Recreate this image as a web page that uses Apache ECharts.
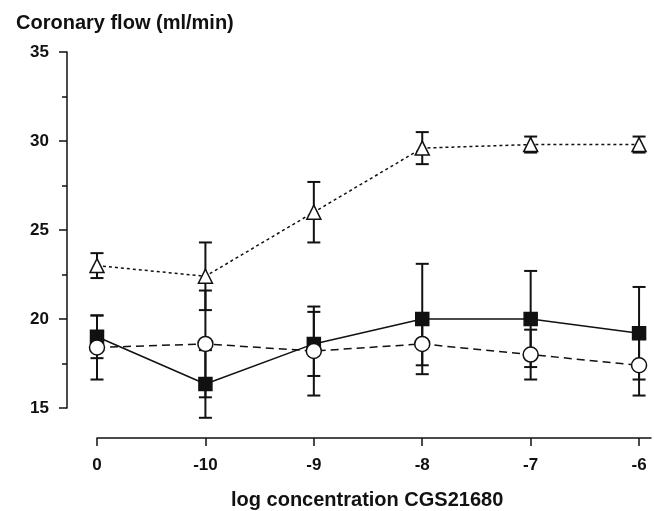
<!DOCTYPE html>
<html style="height: 100%">
<head>
	<meta charset="utf-8">
</head>
<body style="height: 100%; margin: 0; background: #fff">
	<div id="container" style="width: 654px; height: 511px"></div>
	<script type="text/javascript" src="https://cdn.jsdelivr.net/npm/echarts@6/dist/echarts.min.js"></script>
	<script type="text/javascript">
		// x positions are plotted evenly, labels are the log concentrations
		let categories = ['0', '-10', '-9', '-8', '-7', '-6'];
		let yTicks = [15, 20, 25, 30, 35];

		// triangles, dotted line
		let triMean = [23.0, 22.4, 26.0, 29.6, 29.8, 29.8];
		let triErr = [0.7, 1.9, 1.7, 0.9, 0.45, 0.45];
		// filled squares, solid line
		let sqMean = [19.0, 16.35, 18.6, 20.0, 20.0, 19.2];
		let sqErr = [1.2, 1.9, 1.8, 3.1, 2.7, 2.6];
		// open circles, dashed line
		let ciMean = [18.4, 18.6, 18.2, 18.6, 18.0, 17.4];
		let ciErr = [1.8, 3.0, 2.5, 1.2, 1.4, 1.7];

		let dom = document.getElementById('container');
		let myChart = echarts.init(dom, null, { renderer: 'canvas' });
		let font = 'Liberation Sans, Arial, sans-serif';
		let ink = '#111';

		function pts(arr) {
			return arr.map(function (v, i) { return [i, v]; });
		}

		function errData(mean, err) {
			return mean.map(function (v, i) { return [i, v - err[i], v + err[i]]; });
		}

		function errorBars(name, mean, err) {
			return {
				name: name + ' err',
				type: 'custom',
				z: 2,
				silent: true,
				data: errData(mean, err),
				renderItem: function (params, api) {
					let lo = api.coord([api.value(0), api.value(1)]);
					let hi = api.coord([api.value(0), api.value(2)]);
					let w = 6.5;
					let style = { stroke: ink, lineWidth: 2 };
					return {
						type: 'group',
						children: [
							{ type: 'line', shape: { x1: hi[0], y1: hi[1], x2: lo[0], y2: lo[1] }, style: style },
							{ type: 'line', shape: { x1: hi[0] - w, y1: hi[1], x2: hi[0] + w, y2: hi[1] }, style: style },
							{ type: 'line', shape: { x1: lo[0] - w, y1: lo[1], x2: lo[0] + w, y2: lo[1] }, style: style }
						]
					};
				}
			};
		}

		function lineSeries(name, mean, symbol, size, fill, lineType) {
			return {
				name: name,
				type: 'line',
				z: 3,
				data: pts(mean),
				symbol: symbol,
				symbolSize: size,
				showAllSymbol: true,
				lineStyle: { color: ink, width: 1.5, type: lineType },
				itemStyle: { color: fill, borderColor: ink, borderWidth: 1.5 },
				emphasis: { disabled: true }
			};
		}

		let option = {
			animation: false,
			backgroundColor: '#fff',
			title: [
				{
					text: 'Coronary flow (ml/min)',
					left: 11, top: 8,
					textStyle: { fontFamily: font, fontWeight: 'bold', fontSize: 20, color: ink }
				},
				{
					text: 'log concentration CGS21680',
					left: 226, top: 485,
					textStyle: { fontFamily: font, fontWeight: 'bold', fontSize: 20, color: ink }
				}
			],
			grid: { left: 97, right: 3, top: 52, bottom: 103 },
			xAxis: {
				type: 'value',
				min: 0,
				max: 5.11,
				offset: 30,
				axisLine: { show: true, onZero: false, lineStyle: { color: ink, width: 1.5 } },
				axisTick: { show: true, length: 8, lineStyle: { color: ink, width: 1.5 }, customValues: [0, 1, 2, 3, 4, 5] },
				axisLabel: {
					customValues: [0, 1, 2, 3, 4, 5],
					margin: 19,
					fontFamily: font, fontWeight: 'bold', fontSize: 17, color: ink,
					formatter: function (v) { return categories[Math.round(v)]; }
				},
				splitLine: { show: false }
			},
			yAxis: {
				type: 'value',
				min: yTicks[0],
				max: yTicks[yTicks.length - 1],
				interval: 5,
				offset: 30,
				axisLine: { show: true, onZero: false, lineStyle: { color: ink, width: 1.5 } },
				axisTick: { show: true, length: 8, lineStyle: { color: ink, width: 1.5 } },
				minorTick: { show: true, splitNumber: 2, length: 5, lineStyle: { color: ink, width: 1.5 } },
				axisLabel: { margin: 18, fontFamily: font, fontWeight: 'bold', fontSize: 17, color: ink },
				splitLine: { show: false }
			},
			series: [
				errorBars('tri', triMean, triErr),
				errorBars('sq', sqMean, sqErr),
				errorBars('ci', ciMean, ciErr),
				lineSeries('tri', triMean, 'triangle', 14, '#fff', [3, 3]),
				lineSeries('sq', sqMean, 'rect', 13, ink, 'solid'),
				lineSeries('ci', ciMean, 'circle', 15, '#fff', [8, 5])
			]
		};

		myChart.setOption(option);
	</script>
</body>
</html>
